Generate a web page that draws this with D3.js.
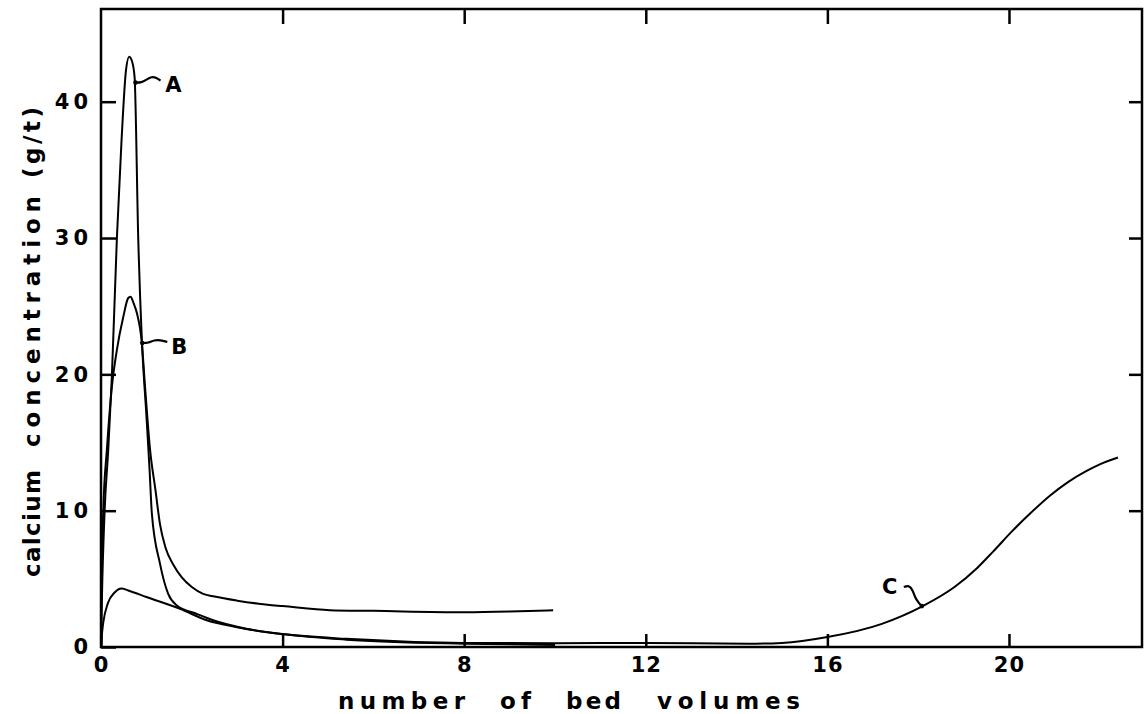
<!DOCTYPE html>
<html>
<head>
<meta charset="utf-8">
<script src="https://cdn.jsdelivr.net/npm/d3@7/dist/d3.min.js"></script>
<style>
body { margin: 0; background: #fff; }
svg { display: block; }
</style>
</head>
<body>
<div id="chart"></div>
<script>
// axis ticks
var xTicks = [0, 4, 8, 12, 16, 20];
var yTicks = [0, 10, 20, 30, 40];
var xTicksTop = [4, 8, 12, 16, 20];
var yTicksRight = [10, 20, 30, 40];

// curve A : bed volumes / calcium (g/t)
var bedA = [0, 0.03, 0.08, 0.16, 0.24, 0.35, 0.45, 0.55, 0.62, 0.68, 0.74, 0.82, 0.9, 1.0, 1.07, 1.12, 1.3, 1.48, 1.67, 2.1, 2.47, 3.2, 4.03, 5.4, 8.0, 10.0];
var calA = [0.5, 5, 10, 14.5, 19.9, 30, 37, 42.3, 43.3, 43.0, 41.8, 30, 22.5, 17, 13, 9.8, 6.1, 3.9, 3.05, 2.44, 1.96, 1.34, 0.93, 0.54, 0.24, 0.15];

// curve B
var bedB = [0, 0.02, 0.05, 0.13, 0.24, 0.35, 0.49, 0.6, 0.65, 0.72, 0.79, 0.9, 0.97, 1.08, 1.2, 1.3, 1.42, 1.6, 1.78, 2.0, 2.25, 2.5, 3.0, 3.67, 4.0, 5.04, 6.0, 8.0, 9.0, 9.96];
var calB = [0.5, 6, 10, 14.5, 19.1, 21.8, 24.2, 25.6, 25.7, 25.2, 24.5, 22.3, 19.1, 14.5, 11.5, 9, 7.3, 6.0, 5.1, 4.4, 3.9, 3.7, 3.4, 3.1, 3.0, 2.7, 2.65, 2.55, 2.6, 2.7];

// curve C
var bedC = [0, 0.05, 0.15, 0.3, 0.45, 0.6, 1.0, 1.74, 2.33, 3.0, 4.0, 5.4, 8.0, 10, 12, 14.25, 15, 16, 17.2, 18.1, 18.8, 19.3, 19.65, 20.07, 20.5, 20.9, 21.3, 21.7, 22.0, 22.4];
var calC = [0.3, 1.8, 3.2, 4.0, 4.3, 4.15, 3.67, 2.8, 1.96, 1.45, 0.95, 0.6, 0.3, 0.27, 0.3, 0.24, 0.3, 0.73, 1.7, 3.0, 4.4, 5.8, 7.0, 8.5, 9.9, 11.1, 12.1, 12.9, 13.4, 13.9];

// curve labels and where their pointers touch the curve
var curveNames = ["A", "B", "C"];
var pointerBed = [0.76, 0.91, 18.08];
var pointerCal = [41.4, 22.3, 3.0];

// axis title words
var xTitleWords = ["number", "of", "bed", "volumes"];
var yTitleWords = ["calcium", "concentration", "(g/t)"];

var W = 1148, H = 714;
var margin = { top: 9, right: 6, bottom: 67, left: 101 };
var FONT = "'DejaVu Sans', sans-serif";

var x = d3.scaleLinear().domain([0, 22.93]).range([margin.left, W - margin.right]);
var y = d3.scaleLinear().domain([0, 46.8]).range([H - margin.bottom, margin.top]);

var svg = d3.select("#chart").append("svg")
	.attr("width", W)
	.attr("height", H)
	.style("font-family", FONT);

function zipPts(xs, ys) {
	return xs.map(function (v, i) { return [v, ys[i]]; });
}

var line = d3.line()
	.x(function (d) { return x(d[0]); })
	.y(function (d) { return y(d[1]); })
	.curve(d3.curveMonotoneX);

// curves
[[bedA, calA], [bedB, calB], [bedC, calC]].forEach(function (s) {
	svg.append("path")
		.datum(zipPts(s[0], s[1]))
		.attr("d", line)
		.attr("fill", "none")
		.attr("stroke", "#000")
		.attr("stroke-width", 2);
});

// frame
svg.append("rect")
	.attr("x", x(0))
	.attr("y", y(46.8))
	.attr("width", x(22.93) - x(0))
	.attr("height", y(0) - y(46.8))
	.attr("fill", "none")
	.attr("stroke", "#000")
	.attr("stroke-width", 2.5);

function styleAxis(g) {
	g.select(".domain").remove();
	g.selectAll(".tick line").attr("stroke", "#000").attr("stroke-width", 2.5);
	g.selectAll("text")
		.attr("fill", "#000")
		.style("font-size", "21px")
		.style("font-weight", "bold")
		.style("font-family", FONT);
}

svg.append("g")
	.attr("transform", "translate(0," + y(0) + ")")
	.call(d3.axisBottom(x).tickValues(xTicks).tickSize(-13).tickPadding(10).tickFormat(d3.format("d")))
	.call(styleAxis)
	.selectAll("text").style("letter-spacing", "1px");

svg.append("g")
	.attr("transform", "translate(" + x(0) + ",0)")
	.call(d3.axisLeft(y).tickValues(yTicks).tickSize(-15).tickPadding(9).tickFormat(d3.format("d")))
	.call(styleAxis)
	.selectAll("text").style("letter-spacing", "4px");

svg.append("g")
	.attr("transform", "translate(0," + y(46.8) + ")")
	.call(d3.axisTop(x).tickValues(xTicksTop).tickSize(-15).tickFormat(""))
	.call(styleAxis);

svg.append("g")
	.attr("transform", "translate(" + x(22.93) + ",0)")
	.call(d3.axisRight(y).tickValues(yTicksRight).tickSize(-13).tickFormat(""))
	.call(styleAxis);

// axis titles, one word at a time (wide gaps between the words)
var xWordSpan = [[338, 465], [500, 531], [566, 621], [657, 800]];
xTitleWords.forEach(function (w, i) {
	svg.append("text")
		.attr("x", xWordSpan[i][0])
		.attr("y", 709)
		.attr("textLength", xWordSpan[i][1] - xWordSpan[i][0])
		.attr("lengthAdjust", "spacing")
		.style("font-size", "23px")
		.style("font-weight", "bold")
		.text(w);
});

var yWordSpan = [[577, 470], [447, 196], [178, 107]];
yTitleWords.forEach(function (w, i) {
	svg.append("text")
		.attr("transform", "translate(40," + yWordSpan[i][0] + ") rotate(-90)")
		.attr("textLength", yWordSpan[i][0] - yWordSpan[i][1])
		.attr("lengthAdjust", "spacing")
		.style("font-size", "23px")
		.style("font-weight", "bold")
		.text(w);
});

// curve pointers (wavy leaders)
var leaderShapes = [
	[[0, 0], [6, 0], [11, -3], [16, -6], [21, -5], [25, -2]],
	[[0, 0], [6, 0], [12, -3], [18, -3], [25, -1]],
	[[-18, -19], [-13, -21], [-9, -16], [-7, -9], [-3, -3], [0, 0]]
];
var labelOffsets = [[38, 9], [37, 11], [-32, -12]];
var leader = d3.line().curve(d3.curveBasis);

curveNames.forEach(function (name, i) {
	var px = x(pointerBed[i]), py = y(pointerCal[i]);
	svg.append("path")
		.attr("d", leader(leaderShapes[i].map(function (p) { return [px + p[0], py + p[1]]; })))
		.attr("fill", "none")
		.attr("stroke", "#000")
		.attr("stroke-width", 2.2);
	svg.append("circle")
		.attr("cx", px)
		.attr("cy", py)
		.attr("r", 2.3)
		.attr("fill", "#000");
	svg.append("text")
		.attr("x", px + labelOffsets[i][0])
		.attr("y", py + labelOffsets[i][1])
		.attr("text-anchor", "middle")
		.style("font-size", "21px")
		.style("font-weight", "bold")
		.text(name);
});
</script>
</body>
</html>
